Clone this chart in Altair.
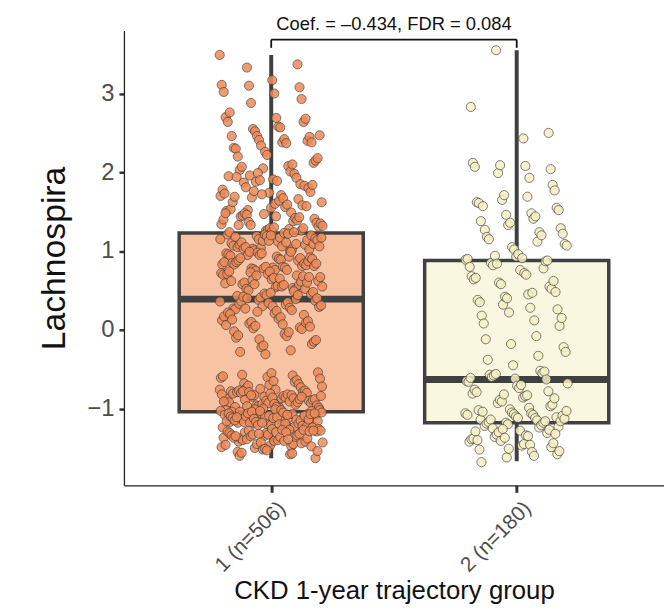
import altair as alt
import numpy as np
import pandas as pd

# ---------------- data ----------------
groups = ["1", "2"]
group_labels = ["1 (n=506)", "2 (n=180)"]
group_pos = [1, 2]

# box statistics: lower whisker, Q1, median, Q3, upper whisker
whisk_lo = [-1.63, -1.67]
q1 = [-1.04, -1.18]
median = [0.39, -0.63]
q3 = [1.23, 0.88]
whisk_hi = [3.49, 3.55]

box_fill = ["#F7C3A3", "#FAF7E0"]
point_fill = ["#EF8A57", "#F6F0C4"]

values_g1 = [
    3.49, 3.37, 3.17, 3.33, 3.11, 3.08, 3.0, 3.1, 3.02,
    2.93, 2.69, 2.88, 2.7, 2.64, 2.58, 2.55, 2.64, 2.68, 2.57, 2.52, 2.76,
    2.4, 2.38, 2.46, 2.46, 2.45, 2.42, 2.41, 2.31, 2.38, 2.37, 2.34, 2.3, 2.12, 2.08, 2.05,
    2.2, 2.15, 2.01, 2.26, 2.03, 2.18, 2.1, 2.22, 2.07, 2.47,
    1.98, 1.74, 1.87, 1.62, 1.93, 1.55, 1.81, 1.7, 1.66, 1.91, 1.52, 1.78, 1.85, 1.6, 1.96,
    1.73, 1.58, 1.89, 1.68, 1.51, 1.83, 1.64, 1.76, 1.95, 1.57, 1.71, 1.88, 1.53, 1.8, 1.67,
    1.99, 1.62, 1.75, 1.56, 1.9, 1.69, 1.84, 1.59, 1.72, 1.94,
    1.41, 1.28, 1.47, 1.33, 1.36, 1.49, 1.26, 1.44, 1.31, 1.38, 1.27, 1.45, 1.35, 1.42, 1.29,
    1.48, 1.32, 1.39, 1.25, 1.46, 1.34, 1.43, 1.3, 1.37, 1.4, 1.26, 1.44, 1.33, 1.48, 1.29,
    1.12, 1.03, 1.21, 1.08, 1.17, 1.01, 1.24, 1.14, 1.06, 1.19, 1.1, 1.02, 1.23, 1.15, 1.07,
    1.2, 1.11, 1.04, 1.18, 1.09, 1.22, 1.13, 1.05, 1.16, 1.0, 1.21, 1.08, 1.14, 1.02, 1.19,
    1.11, 1.06, 1.24, 1.13, 1.03, 1.17, 1.09, 1.2, 1.05, 1.15,
    0.88, 0.79, 0.95, 0.83, 0.91, 0.76, 0.99, 0.86, 0.81, 0.93, 0.78, 0.97, 0.84, 0.9, 0.77,
    0.96, 0.82, 0.89, 0.75, 0.94, 0.87, 0.8, 0.98, 0.85, 0.92, 0.79, 0.95, 0.83, 0.9, 0.76,
    0.97, 0.86, 0.81, 0.93, 0.78, 0.88, 0.84, 0.99, 0.8, 0.91,
    0.62, 0.53, 0.71, 0.58, 0.67, 0.51, 0.74, 0.6, 0.55, 0.69, 0.64, 0.52, 0.72, 0.57, 0.66,
    0.5, 0.7, 0.61, 0.54, 0.73, 0.59, 0.68, 0.56, 0.63, 0.71, 0.52, 0.65, 0.58, 0.74, 0.6,
    0.55, 0.69, 0.62, 0.67, 0.57,
    0.38, 0.27, 0.45, 0.32, 0.41, 0.26, 0.48, 0.35, 0.3, 0.43, 0.37, 0.28, 0.46, 0.33, 0.4,
    0.25, 0.44, 0.36, 0.29, 0.49, 0.34, 0.42, 0.31, 0.39, 0.47, 0.27, 0.36, 0.44, 0.3, 0.4,
    0.12, 0.03, 0.21, 0.08, 0.17, 0.01, 0.24, 0.1, 0.06, 0.19, 0.14, 0.02, 0.22, 0.09, 0.16,
    0.05, 0.2, 0.11, 0.07, 0.23, 0.13, 0.04,
    -0.05, -0.12, -0.02, -0.18, -0.08, -0.22, -0.1, -0.15, -0.03, -0.2, -0.07, -0.13,
    -0.26, -0.31, -0.28,
    -0.54, -0.58, -0.6, -0.57, -0.62, -0.66, -0.7, -0.68, -0.72, -0.64, -0.55, -0.74,
    -0.61, -0.69, -0.65, -0.71, -0.59, -0.73,
    -0.76, -0.82, -0.91, -0.79, -0.95, -0.85, -0.88, -0.77, -0.99, -0.83,
    -0.92, -0.8, -0.87, -0.96, -0.78, -0.9, -0.84, -0.97, -0.81, -0.93,
    -0.86, -0.75, -0.98, -0.89, -0.82, -0.94, -0.79, -0.88, -0.91, -0.85,
    -0.77, -0.96, -0.83, -0.9, -0.8, -0.99, -0.87, -0.93, -0.78, -0.84,
    -0.95, -0.81, -0.89, -0.76, -0.92, -0.86, -0.97, -0.82, -0.88, -0.94,
    -0.79, -0.91, -0.85, -0.98, -0.83,
    -1.02, -1.11, -1.05, -1.19, -1.08, -1.23, -1.14, -1.01, -1.17, -1.07,
    -1.21, -1.1, -1.04, -1.16, -1.24, -1.09, -1.13, -1.03, -1.2, -1.06,
    -1.15, -1.22, -1.12, -1.0, -1.18, -1.08, -1.25, -1.11, -1.04, -1.16,
    -1.07, -1.2, -1.13, -1.02, -1.23, -1.09, -1.17, -1.05, -1.14, -1.21,
    -1.1, -1.03, -1.19, -1.12, -1.06, -1.24, -1.15, -1.01, -1.18, -1.08,
    -1.22, -1.11, -1.04, -1.16, -1.09, -1.2, -1.13, -1.06, -1.23, -1.02,
    -1.17, -1.1, -1.14, -1.05, -1.21, -1.12, -1.07, -1.19, -1.03, -1.15,
    -1.24, -1.08, -1.18, -1.11, -1.06,
    -1.27, -1.35, -1.42, -1.29, -1.48, -1.31, -1.38, -1.26, -1.45, -1.33,
    -1.4, -1.28, -1.36, -1.47, -1.3, -1.43, -1.34, -1.26, -1.39, -1.49,
    -1.32, -1.41, -1.28, -1.37, -1.44, -1.3, -1.35, -1.46, -1.27, -1.4,
    -1.33, -1.29, -1.42, -1.36, -1.5, -1.31, -1.38, -1.27, -1.45, -1.34,
    -1.29, -1.41, -1.32, -1.37, -1.48, -1.3, -1.43, -1.35, -1.28, -1.39,
    -1.52, -1.55, -1.63, -1.58, -1.51, -1.6, -1.54, -1.57, -1.53, -1.56,
]

values_g2 = [
    3.55, 2.83, 2.5, 2.43, 1.99, 2.12, 2.04, 2.08, 2.09, 2.07,
    1.84, 1.69, 1.65, 1.62, 1.77, 1.93, 1.71, 1.61,
    1.55, 1.48, 1.46, 1.38, 1.52, 1.41, 1.33, 1.57, 1.29, 1.44, 1.36, 1.27,
    1.22, 1.12, 1.05, 1.18, 1.09, 1.24, 1.02, 1.15, 1.07, 1.2,
    0.93, 0.85, 0.89, 0.78, 0.96, 0.82, 0.9, 0.87, 0.76, 0.94, 0.8, 0.88, 0.91, 0.84,
    0.68, 0.55, 0.72, 0.6, 0.64, 0.52, 0.7, 0.58, 0.66, 0.62,
    0.45, 0.32, 0.38, 0.48, 0.28, 0.42, 0.35, 0.26, 0.47, 0.4,
    0.18, 0.05, 0.12, 0.22, 0.08, 0.15,
    -0.08, -0.18, -0.12, -0.22,
    -0.33, -0.45, -0.38, -0.28,
    -0.52, -0.62, -0.57, -0.68, -0.55, -0.71, -0.6, -0.65, -0.53, -0.74, -0.58, -0.66,
    -0.63, -0.7, -0.56, -0.61,
    -0.78, -0.86, -0.93, -0.81, -0.97, -0.84, -0.89, -0.76, -0.95, -0.83, -0.91, -0.79,
    -0.87, -0.99, -0.82,
    -1.02, -1.11, -1.06, -1.18, -1.14, -1.23, -1.08, -1.2, -1.04, -1.16, -1.12, -1.01,
    -1.22, -1.09, -1.15, -1.05, -1.19, -1.13, -1.24, -1.07, -1.17, -1.03, -1.21, -1.1,
    -1.14, -1.06, -1.18, -1.12, -1.25, -1.08, -1.16,
    -1.28, -1.36, -1.42, -1.31, -1.47, -1.33, -1.39, -1.27, -1.45, -1.3, -1.38, -1.49,
    -1.34, -1.41, -1.29, -1.44, -1.35, -1.26, -1.4, -1.32, -1.46, -1.37,
    -1.52, -1.58, -1.55, -1.62, -1.68, -1.54, -1.6, -1.51,
]

y_ticks = [-1, 0, 1, 2, 3]
annotation_text = "Coef. = \u20130.434, FDR = 0.084"

# ---------------- tables ----------------
box_df = pd.DataFrame({
    "pos": group_pos, "group": groups, "label": group_labels,
    "lo": whisk_lo, "q1": q1, "med": median, "q3": q3, "hi": whisk_hi,
    "fill": box_fill,
})
BOX_HALF = 0.375
box_df["left"] = box_df["pos"] - BOX_HALF
box_df["right"] = box_df["pos"] + BOX_HALF

rows = []
for g, p, vals, col in zip(groups, group_pos, [values_g1, values_g2], point_fill):
    n = len(vals)
    # deterministic low-discrepancy jitter (visual spreading only)
    jit = ((np.arange(n) * 0.7548776662 + (0.3 if g == "2" else 0.0)) % 1.0 - 0.5) * 0.42
    for v, j in zip(vals, jit):
        rows.append({"group": g, "value": v, "xj": p + j, "fill": col})
pts_df = pd.DataFrame(rows)

BR_Y = 3.685
BR_TICK = 3.58
bracket_h = pd.DataFrame({"x": [group_pos[0]], "x2": [group_pos[1]], "y": [BR_Y]})
bracket_v = pd.DataFrame({"x": group_pos, "y": [BR_TICK, BR_TICK], "y2": [BR_Y, BR_Y]})
ann_df = pd.DataFrame({"x": [(group_pos[0] + group_pos[1]) / 2], "y": [3.755], "text": [annotation_text]})

FONT = "Liberation Sans"
x_scale = alt.Scale(domain=[0.4, 2.6], nice=False, zero=False)
y_scale = alt.Scale(domain=[-1.975, 3.8], nice=False, zero=False)

label_expr = "datum.value == 1 ? '1 (n=506)' : (datum.value == 2 ? '2 (n=180)' : '')"

x_axis = alt.Axis(
    title="CKD 1-year trajectory group", values=group_pos, labelExpr=label_expr,
    labelAngle=-45, labelAlign="right", labelBaseline="top", labelFontSize=21,
    labelColor="#4D4D4D", labelFont=FONT, labelPadding=5, labelOffset=3,
    tickSize=7, tickWidth=3, tickColor="#333333",
    domainColor="#222222", domainWidth=1.3, grid=False,
    titleFont=FONT, titleFontSize=26, titleFontWeight="normal", titleColor="#111111",
    titleBaseline="alphabetic", titleY=114,
)
y_axis = alt.Axis(
    title="Lachnospira", values=y_ticks, format="d", labelFontSize=24, labelColor="#4D4D4D",
    labelFont=FONT, labelPadding=5, tickSize=5, tickWidth=2.5, tickColor="#333333",
    domainColor="#222222", domainWidth=1.3, grid=False,
    titleFont=FONT, titleFontSize=34, titleFontWeight="normal", titleColor="#111111",
    titlePadding=16,
)

base_x = alt.X("pos:Q", scale=x_scale, axis=x_axis)

whiskers = alt.Chart(box_df).mark_rule(color="#404040", strokeWidth=4).encode(
    x=base_x,
    y=alt.Y("lo:Q", scale=y_scale, axis=y_axis),
    y2="hi:Q",
)

boxes = alt.Chart(box_df).mark_rect(stroke="#404040", strokeWidth=3.5).encode(
    x=alt.X("left:Q", scale=x_scale),
    x2="right:Q",
    y=alt.Y("q1:Q", scale=y_scale),
    y2="q3:Q",
    fill=alt.Fill("fill:N", scale=None),
)

medians = alt.Chart(box_df).mark_rule(color="#404040", strokeWidth=7).encode(
    x=alt.X("left:Q", scale=x_scale),
    x2="right:Q",
    y=alt.Y("med:Q", scale=y_scale),
)

points = alt.Chart(pts_df).mark_circle(
    size=85, opacity=0.85, stroke="#3A3A3A", strokeWidth=0.9, strokeOpacity=0.85
).encode(
    x=alt.X("xj:Q", scale=x_scale),
    y=alt.Y("value:Q", scale=y_scale),
    fill=alt.Fill("fill:N", scale=None),
)

br_h = alt.Chart(bracket_h).mark_rule(color="#111111", strokeWidth=1.8).encode(
    x=alt.X("x:Q", scale=x_scale), x2="x2:Q", y=alt.Y("y:Q", scale=y_scale)
)
br_v = alt.Chart(bracket_v).mark_rule(color="#111111", strokeWidth=1.8).encode(
    x=alt.X("x:Q", scale=x_scale), y=alt.Y("y:Q", scale=y_scale), y2="y2:Q"
)
ann = alt.Chart(ann_df).mark_text(
    font=FONT, fontSize=18.5, color="#111111", baseline="bottom", align="center"
).encode(
    x=alt.X("x:Q", scale=x_scale), y=alt.Y("y:Q", scale=y_scale), text="text:N"
)

chart = alt.layer(whiskers, boxes, medians, points, br_h, br_v, ann).properties(
    width=545, height=459,
    autosize=alt.AutoSizeParams(type="none"),
    padding={"left": 117, "top": 20, "right": 0, "bottom": 120},
).configure(
    background="white",
    view=alt.ViewConfig(stroke=None),
)

chart.save("out.html", embed_options={"renderer": "svg", "actions": False})
